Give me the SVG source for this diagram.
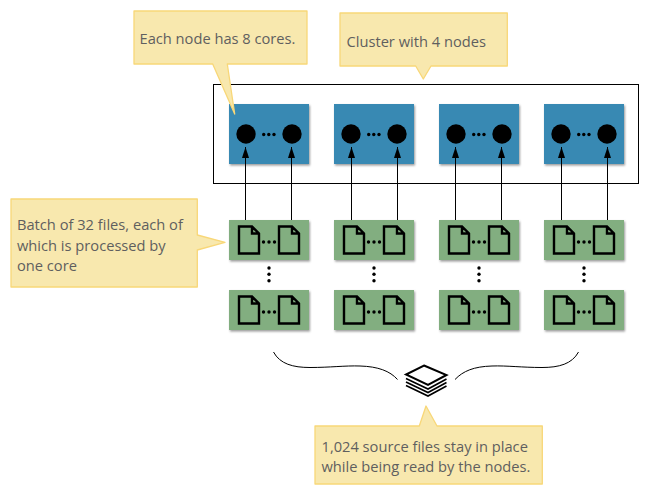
<svg xmlns="http://www.w3.org/2000/svg" width="664" height="496" viewBox="0 0 664 496">
<style>
text{font-family:"Open Sans","Noto Sans",sans-serif;font-size:14.67px;fill:#5f5f5f}
.call{fill:#f8e8ae;stroke:#f8d778;stroke-width:1.3;stroke-linejoin:round}
.blue{fill:#3789b3;filter:url(#sh)}
.green{fill:#82ae80;filter:url(#sh)}
.file{fill:none;stroke:#000;stroke-width:2.400}
.link{fill:none;stroke:#000;stroke-width:1;marker-end:url(#ah)}
.brace{fill:none;stroke:#000;stroke-width:1}
</style>
<defs>
<filter id="sh" x="-10%" y="-10%" width="125%" height="125%"><feDropShadow dx="1" dy="1.5" stdDeviation="1.2" flood-color="#000" flood-opacity=".4"/></filter>
<marker id="ah" markerUnits="userSpaceOnUse" markerWidth="12" markerHeight="8" refX="11" refY="3.5" orient="auto"><path d="M0 0L11 3.500L0 7z" fill="#000"/></marker>
<g id="core"><circle cx="17" cy="30" r="9.7"/><circle cx="63" cy="30" r="9.7"/><circle cx="34.7" cy="30.5" r="1.7"/><circle cx="39.8" cy="30.5" r="1.7"/><circle cx="45" cy="30.5" r="1.7"/></g>
<g id="files"><path class="file" d="M10 6.500H23L30 13.500V33.500H10zM23 6.500V13.500H30M50 6.500H63L70 13.500V33.500H50zM63 6.500V13.500H70"/><circle cx="34.500" cy="22" r="1.7"/><circle cx="40" cy="22" r="1.7"/><circle cx="45.500" cy="22" r="1.7"/></g>
</defs>
<rect id="cluster" x="213.5" y="84.5" width="425" height="99" fill="none" stroke="#000"/>
<g id="node-1"><rect class="blue" x="229" y="104" width="80" height="60"/><use href="#core" x="229" y="104"/></g>
<g id="node-2"><rect class="blue" x="334" y="104" width="80" height="60"/><use href="#core" x="334" y="104"/></g>
<g id="node-3"><rect class="blue" x="439" y="104" width="80" height="60"/><use href="#core" x="439" y="104"/></g>
<g id="node-4"><rect class="blue" x="544" y="104" width="80" height="60"/><use href="#core" x="544" y="104"/></g>
<g id="batch-1a"><rect class="green" x="229" y="220" width="80" height="40"/><use href="#files" x="229" y="220"/></g>
<g id="batch-2a"><rect class="green" x="334" y="220" width="80" height="40"/><use href="#files" x="334" y="220"/></g>
<g id="batch-3a"><rect class="green" x="439" y="220" width="80" height="40"/><use href="#files" x="439" y="220"/></g>
<g id="batch-4a"><rect class="green" x="544" y="220" width="80" height="40"/><use href="#files" x="544" y="220"/></g>
<g id="batch-1b"><rect class="green" x="229" y="290" width="80" height="40"/><use href="#files" x="229" y="290"/></g>
<g id="batch-2b"><rect class="green" x="334" y="290" width="80" height="40"/><use href="#files" x="334" y="290"/></g>
<g id="batch-3b"><rect class="green" x="439" y="290" width="80" height="40"/><use href="#files" x="439" y="290"/></g>
<g id="batch-4b"><rect class="green" x="544" y="290" width="80" height="40"/><use href="#files" x="544" y="290"/></g>
<g id="vdots">
<circle cx="269" cy="268" r="1.7"/><circle cx="269" cy="274.3" r="1.7"/><circle cx="269" cy="280.7" r="1.7"/>
<circle cx="374" cy="268" r="1.7"/><circle cx="374" cy="274.3" r="1.7"/><circle cx="374" cy="280.7" r="1.7"/>
<circle cx="479" cy="268" r="1.7"/><circle cx="479" cy="274.3" r="1.7"/><circle cx="479" cy="280.7" r="1.7"/>
<circle cx="584" cy="268" r="1.7"/><circle cx="584" cy="274.3" r="1.7"/><circle cx="584" cy="280.7" r="1.7"/>
</g>
<g id="connectors">
<path class="link" d="M245.500 220V147"/><path class="link" d="M291.500 220V147"/>
<path class="link" d="M351.500 220V147"/><path class="link" d="M397.500 220V147"/>
<path class="link" d="M455.500 220V147"/><path class="link" d="M501.500 220V147"/>
<path class="link" d="M561.500 220V147"/><path class="link" d="M607.500 220V147"/>
</g>
<g id="braces">
<path class="brace" d="M273.500 352C280 364 293 367.500 310 367.500C330 367.500 345 365.500 360 366C378 366.500 390 371 397.500 379.500"/>
<path class="brace" d="M578.500 352C572 364 559 367.500 542 367.500C522 367.500 507 365.500 492 366C474 366.500 463 371 455 379.500"/>
</g>
<g id="stack" fill="none" stroke="#000" stroke-width="2">
<path d="M424 365.500L446.500 375L428 385L406 374.500z" fill="#fff"/>
<path d="M406 378.500L428 389L446.500 379M406 382L428 392.500L446.500 382.500M406 385.500L428 396L446.500 386" stroke-width="1.600"/>
</g>
<g id="note-cores"><path class="call" d="M134 11H307V64H227.300L234.700 114L212.700 64H134z"/><text x="139.500" y="44">Each node has 8 cores.</text></g>
<g id="note-cluster"><path class="call" d="M340 13H507.300V66H431L423.300 79L415.700 66H340z"/><text x="346.500" y="46.500">Cluster with 4 nodes</text></g>
<g id="note-batch"><path class="call" d="M11 199H197.300V235L225 242.300L197.300 250V287H11z"/><text x="17" y="230">Batch of 32 files, each of</text><text x="17" y="250.500">which is processed by</text><text x="17" y="270.500">one core</text></g>
<g id="note-source"><path class="call" d="M315 426H419.300L426 406L437 426H542.300V484H315z"/><text x="321.500" y="451.500">1,024 source files stay in place</text><text x="321.500" y="472">while being read by the nodes.</text></g>
</svg>
